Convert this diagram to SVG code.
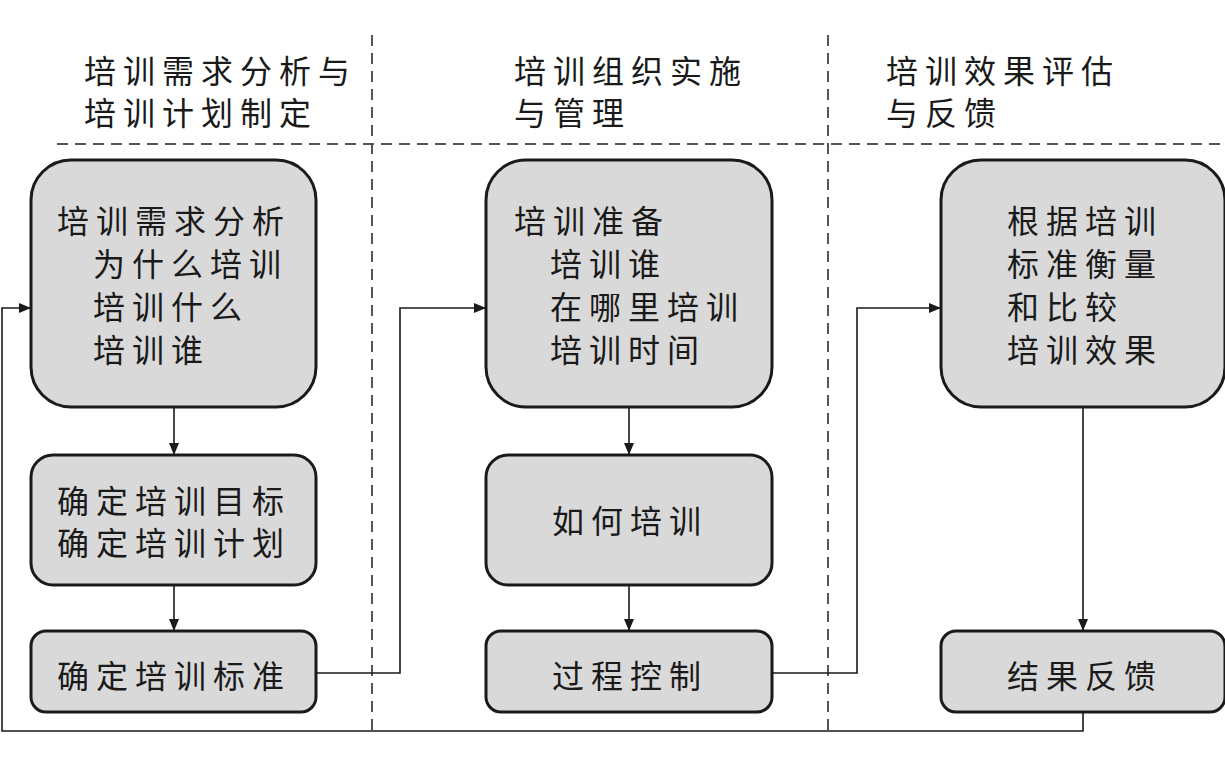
<svg xmlns="http://www.w3.org/2000/svg" width="1225" height="768" viewBox="0 0 1225 768">
<style>
.box{fill:#d9d9d9;stroke:#1a1a1a;stroke-width:3}
.t{font-family:"Noto Sans CJK SC","Noto Sans CJK JP",sans-serif;font-size:32px;letter-spacing:7px;fill:#1a1a1a}
.h{font-family:"Noto Sans CJK SC","Noto Sans CJK JP",sans-serif;font-size:32px;letter-spacing:7px;fill:#1a1a1a}
.dash{stroke:#555;stroke-width:2;stroke-dasharray:11 7;fill:none}
.c{stroke:#1a1a1a;stroke-width:1.6;fill:none}
</style>
<defs>
<marker id="ar" markerWidth="12" markerHeight="10" refX="12" refY="5" orient="auto" markerUnits="userSpaceOnUse">
<path d="M0,0 L12,5 L0,10 Z" fill="#1a1a1a"/>
</marker>
</defs>
<rect width="1225" height="768" fill="#fff"/>
<g id="lanes">
<line class="dash" x1="372" y1="35" x2="372" y2="731"/>
<line class="dash" x1="828" y1="35" x2="828" y2="731"/>
<line class="dash" x1="57" y1="144" x2="1225" y2="144"/>
</g>
<g id="headers">
<text class="h" x="84" y="83">培训需求分析与</text>
<text class="h" x="84" y="125">培训计划制定</text>
<text class="h" x="514" y="83">培训组织实施</text>
<text class="h" x="514" y="125">与管理</text>
<text class="h" x="886" y="83">培训效果评估</text>
<text class="h" x="886" y="125">与反馈</text>
</g>
<g id="connectors">
<line class="c" x1="174" y1="407" x2="174" y2="455" marker-end="url(#ar)"/>
<line class="c" x1="174" y1="585" x2="174" y2="631" marker-end="url(#ar)"/>
<polyline class="c" points="316,673 400,673 400,308 486,308" marker-end="url(#ar)"/>
<line class="c" x1="629" y1="407" x2="629" y2="455" marker-end="url(#ar)"/>
<line class="c" x1="629" y1="585" x2="629" y2="631" marker-end="url(#ar)"/>
<polyline class="c" points="772,673 857,673 857,308 941,308" marker-end="url(#ar)"/>
<line class="c" x1="1083" y1="407" x2="1083" y2="631" marker-end="url(#ar)"/>
<polyline class="c" points="1083,712 1083,731 2,731 2,308 31,308" marker-end="url(#ar)"/>
</g>
<g id="n1">
<rect class="box" x="31" y="160" width="285" height="247" rx="40"/>
<text class="t" x="57" y="233">培训需求分析</text>
<text class="t" x="93" y="276">为什么培训</text>
<text class="t" x="93" y="319">培训什么</text>
<text class="t" x="93" y="362">培训谁</text>
</g>
<g id="n2">
<rect class="box" x="31" y="455" width="285" height="130" rx="22"/>
<text class="t" x="57" y="513">确定培训目标</text>
<text class="t" x="57" y="555">确定培训计划</text>
</g>
<g id="n3">
<rect class="box" x="31" y="631" width="285" height="81" rx="15"/>
<text class="t" x="57" y="688">确定培训标准</text>
</g>
<g id="n4">
<rect class="box" x="486" y="160" width="286" height="247" rx="40"/>
<text class="t" x="514" y="233">培训准备</text>
<text class="t" x="550" y="276">培训谁</text>
<text class="t" x="550" y="319">在哪里培训</text>
<text class="t" x="550" y="362">培训时间</text>
</g>
<g id="n5">
<rect class="box" x="486" y="455" width="286" height="130" rx="22"/>
<text class="t" x="552" y="533">如何培训</text>
</g>
<g id="n6">
<rect class="box" x="486" y="631" width="286" height="81" rx="15"/>
<text class="t" x="552" y="688">过程控制</text>
</g>
<g id="n7">
<rect class="box" x="941" y="160" width="284" height="247" rx="40"/>
<text class="t" x="1007" y="233">根据培训</text>
<text class="t" x="1007" y="276">标准衡量</text>
<text class="t" x="1007" y="319">和比较</text>
<text class="t" x="1007" y="362">培训效果</text>
</g>
<g id="n8">
<rect class="box" x="941" y="631" width="284" height="81" rx="15"/>
<text class="t" x="1007" y="688">结果反馈</text>
</g>
</svg>
